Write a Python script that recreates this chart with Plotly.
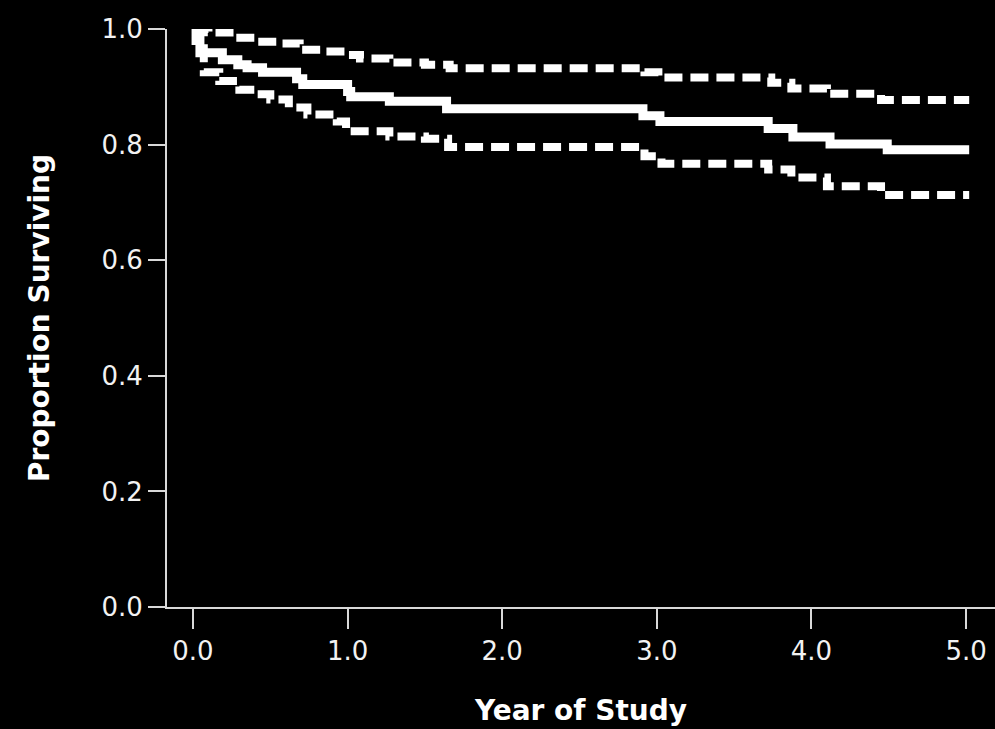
import plotly.graph_objects as go

# Kaplan-Meier estimate with 95% confidence band (step functions)
surv_years = [0.0, 0.02, 0.045, 0.19, 0.29, 0.35, 0.45, 0.67, 0.71, 1.00, 1.02,
              1.27, 1.64, 2.91, 3.02, 3.72, 3.88, 4.12, 4.49, 5.02]
surv_prop = [1.0, 0.98, 0.959, 0.947, 0.938, 0.933, 0.925, 0.914, 0.904, 0.892, 0.883,
             0.875, 0.862, 0.850, 0.840, 0.828, 0.813, 0.801, 0.791, 0.791]

upper_years = [0.0, 0.10, 0.27, 0.41, 0.55, 0.69, 0.84, 1.00, 1.08, 1.27, 1.50,
               1.66, 2.92, 3.01, 3.74, 3.87, 4.10, 4.45, 5.02]
upper_prop = [1.0, 0.994, 0.985, 0.978, 0.975, 0.964, 0.961, 0.955, 0.949, 0.942, 0.938,
              0.932, 0.925, 0.916, 0.907, 0.897, 0.888, 0.877, 0.877]

lower_years = [0.0, 0.07, 0.17, 0.30, 0.40, 0.50, 0.62, 0.74, 0.93, 0.99, 1.27,
               1.50, 1.65, 2.92, 3.03, 3.72, 3.87, 4.10, 4.45, 5.02]
lower_prop = [1.0, 0.925, 0.91, 0.895, 0.887, 0.878, 0.864, 0.852, 0.84, 0.823, 0.814,
              0.81, 0.796, 0.78, 0.767, 0.757, 0.743, 0.728, 0.713, 0.713]

x_ticks = [0, 1, 2, 3, 4, 5]
x_tick_text = ["0.0", "1.0", "2.0", "3.0", "4.0", "5.0"]
y_ticks = [0, 0.2, 0.4, 0.6, 0.8, 1.0]
y_tick_text = ["0.0", "0.2", "0.4", "0.6", "0.8", "1.0"]

AXIS_COLOR = "#d9d9d9"
TEXT_COLOR = "#f2f2f2"
FONT = "DejaVu Sans"

fig = go.Figure()

for xs, ys in [(upper_years, upper_prop), (lower_years, lower_prop)]:
    fig.add_trace(go.Scatter(
        x=xs, y=ys, mode="lines", line_shape="hv",
        line=dict(color="white", width=8, dash="18px,8px"),
        hoverinfo="skip", showlegend=False,
    ))

fig.add_trace(go.Scatter(
    x=surv_years, y=surv_prop, mode="lines", line_shape="hv",
    line=dict(color="white", width=9),
    showlegend=False,
))

fig.update_layout(
    width=995, height=729,
    paper_bgcolor="black", plot_bgcolor="black",
    margin=dict(l=167, r=0, t=29, b=122, pad=0),
    font=dict(family=FONT, color=TEXT_COLOR, size=26),
)

fig.update_xaxes(
    range=[-0.168, 5.187],
    tickvals=x_ticks, ticktext=x_tick_text,
    ticks="outside", ticklen=20, tickwidth=2, tickcolor=AXIS_COLOR,
    showline=True, linecolor=AXIS_COLOR, linewidth=2,
    showgrid=False, zeroline=False,
    tickfont=dict(family=FONT, size=26, color=TEXT_COLOR),
    title=dict(text="<b>Year of Study</b>", standoff=35,
               font=dict(family=FONT, size=28, color="white")),
)

fig.update_yaxes(
    range=[0, 1.0],
    tickvals=y_ticks, ticktext=y_tick_text,
    ticks="outside", ticklen=17, tickwidth=2, tickcolor=AXIS_COLOR,
    showline=True, linecolor=AXIS_COLOR, linewidth=2,
    showgrid=False, zeroline=False,
    tickfont=dict(family=FONT, size=26, color=TEXT_COLOR),
    title=dict(text="<b>Proportion Surviving</b>", standoff=44,
               font=dict(family=FONT, size=28, color="white")),
)

fig.write_html("out.html")
